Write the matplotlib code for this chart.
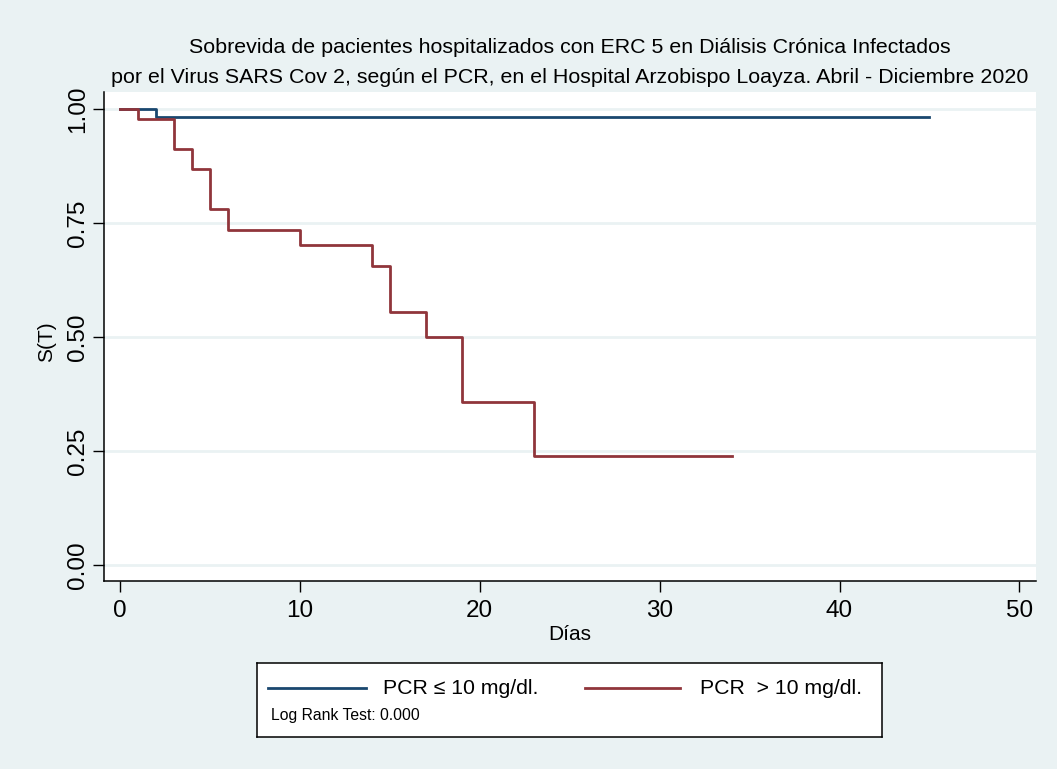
import matplotlib
matplotlib.use("Agg")
import matplotlib.pyplot as plt

# Kaplan-Meier step values
days_low = [0, 2, 45]
surv_low = [1.0, 0.982, 0.982]

days_high = [0, 1, 3, 4, 5, 6, 10, 14, 15, 17, 19, 23, 34]
surv_high = [1.0, 0.977, 0.912, 0.868, 0.780, 0.735, 0.702, 0.656, 0.555, 0.500, 0.358, 0.239, 0.239]

x_ticks = [0, 10, 20, 30, 40, 50]
y_ticks = [0.0, 0.25, 0.50, 0.75, 1.0]
y_ticklabels = ["0.00", "0.25", "0.50", "0.75", "1.00"]

labels = ["PCR \u2264 10 mg/dl.", "PCR  > 10 mg/dl."]
title_lines = [
    "Sobrevida de pacientes hospitalizados con ERC 5 en Di\u00e1lisis Cr\u00f3nica Infectados",
    "por el Virus SARS Cov 2, seg\u00fan el PCR, en el Hospital Arzobispo Loayza. Abril - Diciembre 2020",
]

BG = "#EAF2F3"
BLUE = "#1A476F"
RED = "#90353B"

plt.rcParams["font.family"] = ["Liberation Sans", "DejaVu Sans"]

fig = plt.figure(figsize=(10.57, 7.69), dpi=100, facecolor=BG)
ax = fig.add_axes([0.0984, 0.2445, 0.8817, 0.6355])
ax.set_facecolor("white")

ax.step(days_low, surv_low, where="post", color=BLUE, lw=2.0, zorder=3)
ax.step(days_high, surv_high, where="post", color=RED, lw=2.0, zorder=3)

ax.set_xlim(-0.89, 50.92)
ax.set_ylim(-0.035, 1.0366)
ax.set_xticks(x_ticks)
ax.set_yticks(y_ticks)
ax.set_yticklabels(y_ticklabels, rotation=90, va="center")
ax.tick_params(axis="both", labelsize=17.5, length=8, width=1, direction="out")
ax.tick_params(axis="y", pad=3)
ax.tick_params(axis="x", pad=6)
ax.grid(axis="y", color=BG, lw=2, zorder=1)

for side in ["top", "right"]:
    ax.spines[side].set_visible(False)
for side in ["left", "bottom"]:
    ax.spines[side].set_linewidth(1.1)

ax.set_xlabel("D\u00edas", fontsize=15, labelpad=2)
ax.set_ylabel("S(T)", fontsize=15)
ax.yaxis.set_label_coords(-0.052, 0.49)

fig.text(0.539, 0.938, title_lines[0], ha="center", va="center", fontsize=15.4)
fig.text(0.539, 0.899, title_lines[1], ha="center", va="center", fontsize=15.4)

# legend box
lg = fig.add_axes([0.2431, 0.0416, 0.5913, 0.0962])
lg.set_facecolor("white")
lg.set_xlim(0, 1)
lg.set_ylim(0, 1)
lg.set_xticks([])
lg.set_yticks([])
for s in lg.spines.values():
    s.set_linewidth(1.1)
lg.plot([0.0176, 0.1744], [0.662, 0.662], color=BLUE, lw=2.0)
lg.text(0.2016, 0.662, labels[0], fontsize=15.3, va="center", ha="left")
lg.plot([0.525, 0.677], [0.662, 0.662], color=RED, lw=2.0)
lg.text(0.709, 0.662, labels[1], fontsize=15.3, va="center", ha="left")
lg.text(0.0224, 0.297, "Log Rank Test: 0.000", fontsize=11.3, va="center", ha="left")

fig.savefig("out.png", dpi=100, facecolor=BG)
